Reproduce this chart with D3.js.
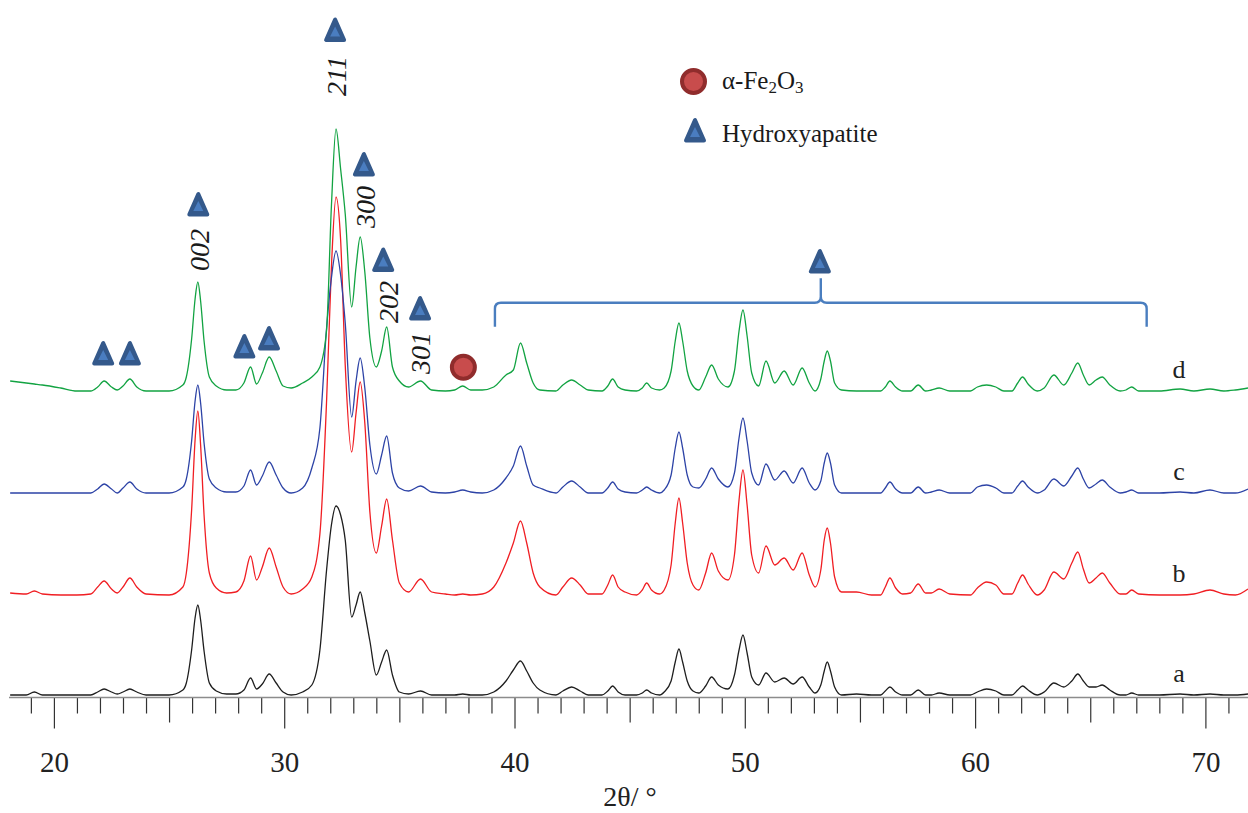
<!DOCTYPE html>
<html>
<head>
<meta charset="utf-8">
<script src="https://cdn.jsdelivr.net/npm/d3@7"></script>
<style>
  body { margin: 0; background: #fff; }
  svg { display: block; font-family: "Liberation Serif", "Times New Roman", serif; }
</style>
</head>
<body>
<svg id="chart" width="1248" height="813"></svg>
<script>
// XRD patterns a-d, intensity (a.u., above each trace's own baseline)

const two_theta = [
  18.1, 18.8, 19.15, 19.5, 20.3, 21.0, 21.6, 21.9, 22.18, 22.5, 22.75, 23.0, 23.3, 23.6, 24.0, 25.0,
  25.6, 25.75, 25.98, 26.13, 26.25, 26.37, 26.52, 26.75, 27.05, 27.5,
  27.9, 28.25, 28.54, 28.8, 29.05, 29.35, 29.65, 29.95,
  30.3, 30.8, 31.2, 31.55, 31.84, 32.05, 32.25, 32.45, 32.65, 32.93, 33.12, 33.3, 33.5, 33.72, 34.0, 34.23, 34.45, 34.7, 35.0, 35.4, 35.92, 36.4, 37.0,
  37.4, 37.75, 38.1, 38.6, 39.1, 39.63, 39.95, 40.26, 40.53, 40.81, 41.1, 41.8,
  42.1, 42.48, 42.85, 43.2, 43.8, 44.05, 44.26, 44.5, 44.8, 45.3, 45.55, 45.74, 45.95, 46.3,
  46.5, 46.8, 46.98, 47.14, 47.3, 47.5, 47.75, 48.0, 48.3, 48.56, 48.85, 49.27,
  49.55, 49.75, 49.92, 50.1, 50.3, 50.6, 50.92, 51.3, 51.71, 52.1, 52.49, 52.8,
  53.05, 53.3, 53.45, 53.58, 53.72, 53.9, 54.2, 54.85, 55.5,
  55.9, 56.1, 56.3, 56.55, 56.85, 57.2, 57.53, 57.85, 58.1, 58.44, 58.9,
  59.8, 60.1, 60.5, 60.9, 61.25, 61.6, 61.85, 62.06, 62.3, 62.7,
  63.0, 63.42, 63.85, 64.2, 64.46, 64.7, 64.95, 65.25, 65.52, 65.85, 66.3,
  66.55, 66.8, 67.1, 68.0, 68.9, 69.5, 70.2, 70.8, 71.3, 71.85
];

const series_a = [
  0, 0, 3, 0, 0, 0, 0, 3, 6, 3, 1, 3, 6, 3, 0, 0,
  5, 12, 45, 77, 90, 75, 44, 12, 4, 1,
  1, 5, 17, 6, 11, 21, 12, 3,
  0, 3, 10, 45, 125, 170, 189, 180, 155, 78, 90, 103, 82, 54, 20, 33, 45, 20, 3, 1, 4, 0, 0,
  0, 1, 0, 0, 3, 14, 25, 34, 24, 12, 5, 0,
  4, 8, 4, 0, 0, 4, 9, 3, 0, 0, 2, 5, 2, 0,
  3, 14, 33, 46, 33, 14, 4, 2, 9, 18, 10, 6,
  20, 45, 60, 42, 18, 10, 22, 13, 17, 11, 18, 8,
  2, 10, 24, 33, 24, 8, 0, 1, 0,
  0, 4, 8, 3, 0, 0, 5, 0, 0, 2, 0,
  0, 3, 6, 4, 0, 0, 5, 9, 5, 0,
  3, 12, 8, 14, 21, 14, 8, 8, 10, 5, 0,
  0, 2, 0, 0, 1, 0, 1, 0, 0, 1
];

const series_b = [
  2, 1, 4, 1, 0, 0, 1, 8, 14, 6, 2, 8, 17, 8, 1, 0,
  8, 22, 85, 155, 184, 150, 80, 22, 7, 2,
  3, 14, 39, 15, 28, 47, 28, 8,
  1, 6, 18, 61, 194, 328, 398, 355, 230, 143, 182, 213, 172, 83, 42, 69, 96, 55, 12, 3, 16, 3, 1,
  0, 1, 0, 1, 8, 32, 52, 74, 52, 22, 8, 0,
  8, 17, 10, 1, 1, 10, 20, 8, 3, 0, 5, 12, 5, 1,
  5, 30, 72, 97, 72, 32, 10, 5, 22, 42, 24, 15,
  40, 95, 125, 90, 40, 22, 49, 30, 37, 25, 42, 20,
  8, 25, 55, 67, 52, 18, 3, 3, 0,
  0, 8, 17, 7, 1, 2, 11, 2, 2, 6, 1,
  0, 7, 13, 10, 1, 1, 12, 20, 11, 0,
  5, 23, 16, 32, 43, 26, 12, 17, 22, 12, 1,
  1, 5, 1, 0, 0, 1, 5, 1, 0, 6
];

const series_c = [
  0, 0, 0, 0, 0, 0, 0, 4, 9, 4, 0, 5, 11, 4, 0, 0,
  6, 14, 52, 92, 108, 90, 50, 14, 5, 1,
  1, 7, 23, 8, 17, 31, 18, 5,
  0, 5, 25, 65, 165, 215, 242, 218, 170, 76, 112, 135, 105, 48, 19, 38, 57, 20, 5, 2, 7, 1, 0,
  1, 3, 1, 0, 3, 15, 27, 47, 27, 8, 5, 0,
  6, 12, 6, 0, 0, 5, 11, 4, 1, 0, 3, 6, 3, 0,
  3, 18, 45, 61, 45, 18, 6, 5, 14, 25, 14, 6,
  20, 55, 75, 52, 20, 8, 29, 13, 22, 10, 25, 10,
  3, 12, 30, 40, 30, 8, 0, 0, 0,
  0, 5, 11, 4, 0, 0, 6, 0, 1, 3, 0,
  0, 6, 8, 5, 0, 0, 7, 12, 6, 0,
  3, 14, 7, 17, 25, 14, 5, 9, 13, 6, 0,
  1, 3, 0, 0, 1, 0, 3, 0, 0, 4
];

const series_d = [
  10, 8, 7, 6, 3, 0, 0, 4, 10, 4, 1, 5, 12, 4, 0, 0,
  6, 14, 52, 92, 109, 90, 50, 14, 5, 1,
  1, 8, 24, 7, 18, 34, 20, 5,
  3, 8, 14, 24, 61, 185, 262, 222, 177, 84, 124, 154, 119, 53, 24, 40, 64, 24, 10, 4, 10, 1, 0,
  1, 5, 1, 1, 4, 16, 21, 48, 28, 8, 1, 0,
  6, 11, 6, 1, 0, 5, 12, 4, 1, 0, 3, 8, 3, 1,
  3, 20, 50, 68, 50, 20, 5, 1, 14, 26, 12, 4,
  20, 60, 81, 55, 18, 5, 30, 8, 20, 6, 23, 8,
  0, 12, 30, 40, 30, 8, 1, 0, 0,
  0, 4, 10, 4, 0, 0, 6, 0, 1, 3, 0,
  0, 4, 6, 4, 0, 0, 8, 14, 7, 0,
  3, 16, 6, 18, 28, 16, 6, 11, 14, 6, 0,
  1, 4, 0, 0, 2, 0, 2, 0, 1, 3
];

const series_names = ["a", "b", "c", "d"];
const series_offsets = [2.5, 102.5, 204.5, 306.5];
const series_colors = ["#1e1e1e", "#f01e23", "#2d43a6", "#12a342"];

// reflection marks (hydroxyapatite triangles, hematite circle)
const hap_theta = [22.14, 23.30, 26.27, 28.27, 29.34, 32.21, 33.46, 34.30, 35.90, 53.26];
const hap_level = [343.5, 343.5, 492.5, 350.5, 358.5, 667, 532.5, 437, 388.5, 435.5];
const fe_theta = [37.78];
const fe_level = [330.2];

const hkl_labels = ["002", "211", "300", "202", "301"];
const hkl_theta = [26.34, 32.28, 33.51, 34.55, 35.90];
const hkl_level = [447.5, 621.5, 490.5, 395.5, 344.5];

// bracket over 39-67.5 deg
const bracket_theta = [39.15, 53.30, 67.45];
const bracket_level = [394.8, 370.8, 419.2];

const svg = d3.select("#chart");
const axis_y = 697.5;

const x_scale = d3.scaleLinear()
    .domain([18.05, 71.85])
    .range([9, 1248]);

const y_scale = d3.scaleLinear()
    .domain([0, 697])
    .range([axis_y, 0.5]);

[series_a, series_b, series_c, series_d].forEach((s, i) => {
  if (s.length !== two_theta.length) console.error("length mismatch", series_names[i], s.length, two_theta.length);
});

// axis
const axis = d3.axisBottom(x_scale)
    .tickValues(d3.range(19, 72))
    .tickSize(16)
    .tickFormat(d => d % 10 === 0 ? d : "");

const x_axis = svg.append("g")
    .attr("transform", `translate(0, ${axis_y})`)
    .call(axis);

x_axis.select(".domain").remove();
x_axis.selectAll(".tick line")
    .attr("y2", d => d % 10 === 0 ? 31 : (d % 5 === 0 ? 25 : 16))
    .style("stroke", "#333")
    .style("stroke-width", 1.2);
x_axis.selectAll(".tick text")
    .attr("y", 74)
    .attr("dy", 0)
    .style("font-family", "'Liberation Serif', serif")
    .style("font-size", "29px")
    .style("fill", "#222");

svg.append("line")
    .attr("x1", 9).attr("x2", 1248)
    .attr("y1", axis_y).attr("y2", axis_y)
    .style("stroke", "#8c8c8c")
    .style("stroke-width", 1.6);

svg.append("text")
    .attr("x", 630)
    .attr("y", 806)
    .attr("text-anchor", "middle")
    .style("font-size", "28px")
    .style("fill", "#222")
    .text("2θ/ °");

// traces
const all_series = [series_a, series_b, series_c, series_d];
const traceLayer = svg.append("g").attr("id", "trace-layer");

all_series.forEach((vals, i) => {
  const pts = two_theta.map((t, j) => [t, vals[j]]);
  const line = d3.line()
      .x(d => x_scale(d[0]))
      .y(d => y_scale(series_offsets[i] + d[1]))
      .curve(d3.curveMonotoneX);

  traceLayer.append("path")
      .attr("d", line(pts))
      .style("fill", "none")
      .style("stroke", series_colors[i])
      .style("stroke-width", 1.3)
      .style("stroke-linejoin", "round");

  svg.append("text")
      .attr("x", x_scale(68.85))
      .attr("y", y_scale(series_offsets[i] + 13))
      .attr("text-anchor", "middle")
      .style("font-size", "26px")
      .style("fill", "#222")
      .text(series_names[i]);
});

// marker shapes
const draw_triangle = function(g, cx, cy){
  g.append("path")
      .attr("d", `M${cx},${cy - 11}L${cx - 9},${cy + 9.5}L${cx + 9},${cy + 9.5}Z`)
      .style("fill", "#34598b")
      .style("stroke", "#34598b")
      .style("stroke-width", 4)
      .style("stroke-linejoin", "round");
  g.append("path")
      .attr("d", `M${cx},${cy - 4}L${cx - 5},${cy + 6}L${cx + 5},${cy + 6}Z`)
      .style("fill", "#4a7dc0");
}

const draw_circle = function(g, cx, cy){
  g.append("circle")
      .attr("cx", cx).attr("cy", cy).attr("r", 11.5)
      .style("fill", "#c84c4c")
      .style("stroke", "#902c2c")
      .style("stroke-width", 4);
}

const markLayer = svg.append("g").attr("id", "mark-layer");

hap_theta.forEach((t, i) => draw_triangle(markLayer, x_scale(t), y_scale(hap_level[i])));
fe_theta.forEach((t, i) => draw_circle(markLayer, x_scale(t), y_scale(fe_level[i])));

hkl_labels.forEach((lab, i) => {
  const cx = x_scale(hkl_theta[i]);
  const cy = y_scale(hkl_level[i]);
  markLayer.append("text")
      .attr("transform", `translate(${cx}, ${cy}) rotate(-90)`)
      .attr("text-anchor", "middle")
      .attr("dominant-baseline", "central")
      .style("font-size", "28px")
      .style("font-style", "italic")
      .style("fill", "#1a1a1a")
      .text(lab);
});

// bracket
const bx0 = x_scale(bracket_theta[0]);
const bxm = x_scale(bracket_theta[1]);
const bx1 = x_scale(bracket_theta[2]);
const by = y_scale(bracket_level[0]);
const by_end = y_scale(bracket_level[1]);
const by_tip = y_scale(bracket_level[2]);
const r = 6;

const bracket_path = d3.path();
bracket_path.moveTo(bx0, by_end);
bracket_path.lineTo(bx0, by + r);
bracket_path.quadraticCurveTo(bx0, by, bx0 + r, by);
bracket_path.lineTo(bxm - r, by);
bracket_path.quadraticCurveTo(bxm, by, bxm, by - r);
bracket_path.lineTo(bxm, by_tip);
bracket_path.moveTo(bxm, by - r);
bracket_path.quadraticCurveTo(bxm, by, bxm + r, by);
bracket_path.lineTo(bx1 - r, by);
bracket_path.quadraticCurveTo(bx1, by, bx1, by + r);
bracket_path.lineTo(bx1, by_end);

markLayer.append("path")
    .attr("d", bracket_path.toString())
    .style("fill", "none")
    .style("stroke", "#4a7ebf")
    .style("stroke-width", 2.4);

// legend
const legend = svg.append("g").attr("id", "legend");
draw_circle(legend, 693.5, 81.5);
draw_triangle(legend, 695, 131);

const fe_text = legend.append("text")
    .attr("x", 722)
    .attr("y", 88.5)
    .style("font-size", "25px")
    .style("fill", "#1a1a1a");
fe_text.append("tspan").text("α-Fe");
fe_text.append("tspan").attr("dy", 4).style("font-size", "17px").text("2");
fe_text.append("tspan").attr("dy", -4).text("O");
fe_text.append("tspan").attr("dy", 4).style("font-size", "17px").text("3");

legend.append("text")
    .attr("x", 722)
    .attr("y", 141.5)
    .style("font-size", "25px")
    .style("fill", "#1a1a1a")
    .text("Hydroxyapatite");
</script>
</body>
</html>
